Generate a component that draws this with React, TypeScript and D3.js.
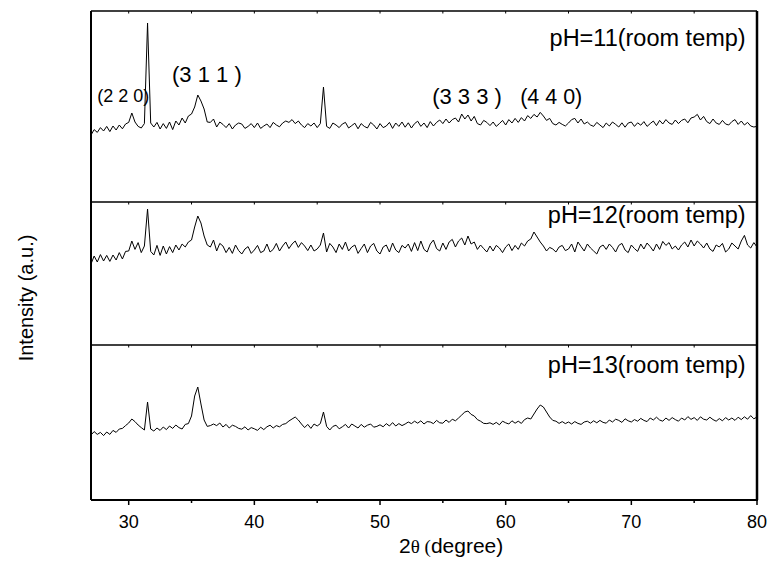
import React from 'react';
import * as d3 from 'd3';

// 2θ sampling grid (degrees)
const twoTheta: number[] = d3.range(0, 213).map((i) => 27 + i * 0.25);

// Intensity (a.u.), one value per grid point
const ph11: number[] = [
  335, 362, 348, 372,
  355, 378, 352, 380,
  360, 385, 366, 390,
  398, 445, 400, 378,
  370, 392, 895, 395,
  375, 398, 365, 392,
  368, 400, 362, 405,
  385, 420, 395, 430,
  440, 475, 535, 505,
  465, 400, 398, 415,
  375, 400, 388, 372,
  392, 365, 385, 395,
  390, 368, 378, 392,
  372, 395, 368, 380,
  390, 372, 398, 385,
  376, 395, 405, 398,
  412, 392, 405, 385,
  372, 392, 380, 395,
  372, 392, 575, 378,
  368, 395, 385, 372,
  390, 398, 370, 382,
  394, 366, 392, 378,
  370, 398, 385, 365,
  392, 372, 380, 398,
  368, 395, 378, 400,
  374, 396, 370, 392,
  404, 378, 395, 372,
  402, 380, 398, 410,
  392, 415, 395, 412,
  420, 400, 440, 415,
  435, 405, 428, 392,
  385, 408, 398, 382,
  400, 378, 392, 408,
  385, 412, 395, 418,
  398, 422, 405, 432,
  418, 438, 425, 448,
  430, 408, 418, 392,
  385, 398, 388, 380,
  395, 412, 418, 395,
  415, 390, 400, 385,
  378, 398, 385, 372,
  395, 380, 400, 388,
  375, 396, 374, 395,
  400, 378, 396, 384,
  402, 378, 392, 405,
  382, 408, 390, 412,
  395, 388, 410, 392,
  408, 415, 396, 420,
  425, 438, 410, 428,
  402, 392, 415, 395,
  388, 408, 390, 385,
  402, 412, 388, 405,
  385, 398, 380, 375,
  378,
];

const ph12: number[] = [
  405, 445, 415, 452,
  420, 448, 418, 450,
  425, 462, 430, 468,
  470, 520, 478, 512,
  462, 495, 680, 468,
  450, 498, 448, 495,
  455, 492, 462, 500,
  475, 505, 490, 515,
  525, 590, 645, 610,
  545, 500, 490, 525,
  470, 508, 495, 462,
  488, 458, 500, 472,
  455, 480, 492, 458,
  475, 498, 462, 470,
  505, 465, 478, 508,
  470, 495, 515, 482,
  505, 520, 488, 512,
  495, 472, 500, 470,
  480, 500, 560, 465,
  508, 490, 462, 505,
  478, 515, 470, 490,
  500, 458, 482, 505,
  462, 495, 508, 470,
  455, 490, 500, 465,
  510, 475, 462, 498,
  485, 505, 468, 512,
  472, 520, 478, 465,
  505, 525, 482, 470,
  510, 478, 515, 528,
  490, 520, 535, 500,
  545, 505, 515, 478,
  500, 482, 465, 495,
  470, 498, 485, 462,
  490, 505, 472, 498,
  478, 510, 495, 520,
  530, 565, 540, 515,
  495, 470, 488, 480,
  465, 490, 498, 472,
  480, 505, 465, 515,
  492, 470, 505, 485,
  470, 455, 490, 500,
  478, 505, 488, 465,
  498, 508, 475, 462,
  500, 482, 468, 505,
  480, 510, 492, 470,
  505, 478, 518, 498,
  512, 480, 495, 475,
  500, 515, 490, 525,
  495, 520, 505, 485,
  510, 480, 468, 500,
  490, 508, 465, 480,
  510, 495, 480, 520,
  548, 500, 485, 512,
  490,
];

const ph13: number[] = [
  325, 342, 328, 338,
  322, 340, 328, 348,
  338, 355, 358, 372,
  385, 405, 392, 375,
  362, 350, 490, 355,
  345, 360, 348, 365,
  352, 370, 358, 375,
  362, 355, 378, 382,
  420, 520, 565, 480,
  400, 368, 372, 380,
  372, 385, 365, 378,
  360, 374, 368, 358,
  354, 366, 350, 362,
  356, 348, 364, 352,
  366, 374, 360, 372,
  366, 378, 382, 395,
  405, 415, 400, 380,
  362, 378, 358, 380,
  370, 382, 440, 368,
  350, 368, 374, 356,
  366, 378, 360, 380,
  370, 360, 378, 364,
  374, 380, 364, 368,
  376, 366, 382, 370,
  387, 370, 382, 372,
  380, 390, 382, 394,
  384, 396, 380, 392,
  390, 382, 398, 386,
  384, 400, 388, 404,
  396, 410, 425, 440,
  445, 428, 420, 402,
  394, 383, 382, 386,
  378, 388, 376, 394,
  386, 380, 396, 384,
  394, 383, 402, 410,
  405, 430, 455, 475,
  465, 440, 415, 398,
  394, 383, 392, 382,
  390, 380, 392, 383,
  378, 390, 394, 384,
  396, 386, 398, 388,
  384, 400, 390, 404,
  398, 388, 406, 396,
  390, 402, 394, 408,
  398, 392, 410, 400,
  414, 400, 394, 410,
  398, 412, 402, 394,
  410, 400, 417, 403,
  412, 398, 416, 404,
  400, 414, 402, 394,
  407, 396, 412, 400,
  410, 398, 414, 402,
  416, 404, 422, 406,
  415,
];

const seriesList: number[][] = [ph11, ph12, ph13];
const panelLabels: string[] = ['pH=11(room temp)', 'pH=12(room temp)', 'pH=13(room temp)'];
const panelLabelIntensity: number[] = [780, 610, 635];
const panelMax: number[] = [955, 715, 775];

const xDomain: [number, number] = [27, 80];
const xTicks: number[] = [30, 40, 50, 60, 70, 80];
const xMinorTicks: number[] = [35, 45, 55, 65, 75];

// Miller-index annotations in the top panel
const peakTexts: string[] = ['(2 2 0)', '(3 1 1 )', '(3 3 3 )', '(4 4 0)'];
const peakTheta: number[] = [27.5, 33.45, 54.15, 61.15];
const peakIntensity: number[] = [500, 600, 490, 490];

// layout
const W = 768;
const H = 567;
const left = 91;
const right = 757;
const panelEdges = [11, 202, 345, 500];
const FONT = '"Liberation Sans", Arial, sans-serif';
const peakFont = [18, 22, 22, 21.5];

export default function App() {
  const x = d3.scaleLinear().domain(xDomain).range([left, right]);
  const yScales = panelMax.map((m, i) =>
    d3.scaleLinear().domain([0, m]).range([panelEdges[i + 1], panelEdges[i]])
  );

  return (
    <svg
      width={W}
      height={H}
      viewBox={`0 0 ${W} ${H}`}
      style={{ position: 'absolute', left: 0, top: 0, background: '#fff' }}
    >
      <rect x={0} y={0} width={W} height={H} fill="#fff" />
      {seriesList.map((s, i) => {
        const y = yScales[i];
        const line = d3
          .line<number>()
          .x((_, j) => x(twoTheta[j]))
          .y((d) => y(d));
        return (
          <g key={i}>
            <path d={line(s) || ''} fill="none" stroke="#000" strokeWidth={1} strokeLinejoin="miter" />
            <text
              x={x(79.1)}
              y={y(panelLabelIntensity[i])}
              textAnchor="end"
              fontFamily={FONT}
              fontSize={23.5}
              fill="#000"
            >
              {panelLabels[i]}
            </text>
            {[...xTicks, ...xMinorTicks].map((t) => (
              <line
                key={t}
                x1={x(t)}
                x2={x(t)}
                y1={panelEdges[i]}
                y2={panelEdges[i] + 2.5}
                stroke="#000"
                strokeWidth={1}
              />
            ))}
          </g>
        );
      })}

      {peakTexts.map((t, i) => (
        <text
          key={t}
          x={x(peakTheta[i])}
          y={yScales[0](peakIntensity[i])}
          fontFamily={FONT}
          fontSize={peakFont[i]}
          fill="#000"
        >
          {t}
        </text>
      ))}

      {/* frame */}
      {panelEdges.slice(1, 3).map((e) => (
        <line key={e} x1={left} x2={right} y1={e} y2={e} stroke="#000" strokeWidth={1.5} />
      ))}
      <line x1={left} x2={right} y1={panelEdges[0]} y2={panelEdges[0]} stroke="#000" strokeWidth={1.5} />
      <line x1={left} x2={right + 1} y1={panelEdges[3]} y2={panelEdges[3]} stroke="#000" strokeWidth={2} />
      <line x1={left} x2={left} y1={panelEdges[0]} y2={panelEdges[3]} stroke="#000" strokeWidth={2} />
      <line x1={right} x2={right} y1={panelEdges[0]} y2={panelEdges[3]} stroke="#000" strokeWidth={2.5} />

      {/* x axis ticks */}
      {xTicks.map((t) => (
        <g key={t}>
          <line x1={x(t)} x2={x(t)} y1={panelEdges[3]} y2={panelEdges[3] + 5} stroke="#000" strokeWidth={1.5} />
          <text x={x(t)} y={528} textAnchor="middle" fontFamily={FONT} fontSize={18} fill="#000">
            {t}
          </text>
        </g>
      ))}
      {xMinorTicks.map((t) => (
        <line key={t} x1={x(t)} x2={x(t)} y1={panelEdges[3]} y2={panelEdges[3] + 3} stroke="#000" strokeWidth={1.5} />
      ))}

      {/* axis titles */}
      <text x={399} y={553} fontFamily={FONT} fontSize={21} fill="#000">
        <tspan>2</tspan>
        <tspan fontFamily='"Liberation Serif", "Times New Roman", serif' fontSize={19}>θ (</tspan>
        <tspan>degree)</tspan>
      </text>
      <text
        transform="translate(33,298) rotate(-90)"
        textAnchor="middle"
        fontFamily={FONT}
        fontSize={20}
        fill="#000"
      >
        Intensity (a.u.)
      </text>
    </svg>
  );
}
